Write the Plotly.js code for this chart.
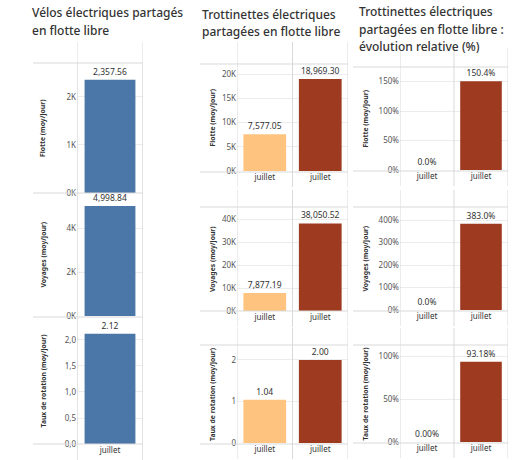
<!DOCTYPE html>
<html>
<head>
<meta charset="utf-8">
<script src="https://cdn.plot.ly/plotly-3.0.1.min.js"></script>
<style>html,body{margin:0;padding:0;background:#fff;}#chart{width:512px;height:460px;}</style>
</head>
<body>
<div id="chart"></div>
<script>
// ---------- data ----------
const years = ['2021', '2022'];
const veloYears = ['2022'];
const monthLabel = 'juillet';

const veloFlotte = [2357.56];
const veloVoyages = [4998.84];
const veloRotation = [2.12];

const trotFlotte = [7577.05, 18969.30];
const trotVoyages = [7877.19, 38050.52];
const trotRotation = [1.04, 2.00];

const evolFlotte = [0.0, 150.4];
const evolVoyages = [0.0, 383.0];
const evolRotation = [0.00, 93.18];

const veloFlotteTicks = [0, 1000, 2000];
const veloVoyagesTicks = [0, 2000, 4000];
const veloRotationTicks = [0, 0.5, 1.0, 1.5, 2.0];
const trotFlotteTicks = [0, 5000, 10000, 15000, 20000];
const trotVoyagesTicks = [0, 10000, 20000, 30000, 40000];
const trotRotationTicks = [0, 1, 2];
const evolFlotteTicks = [0, 50, 100, 150];
const evolVoyagesTicks = [0, 100, 200, 300, 400];
const evolRotationTicks = [0, 50, 100];

const titles = [
  ['Vélos électriques partagés', 'en flotte libre'],
  ['Trottinettes électriques', 'partagées en flotte libre'],
  ['Trottinettes électriques', 'partagées en flotte libre :', 'évolution relative (%)']
];
const measureTitles = ['Flotte (moy/jour)', 'Voyages (moy/jour)', 'Taux de rotation (moy/jour)'];

// ---------- helpers ----------
const W = 512, H = 460;
const px = v => v / W;
const py = v => 1 - v / H;
const FONT = 'Noto Sans, Open Sans, sans-serif';
const yearColor = {'2021': '#fec47f', '2022': '#9d3a1f'};
const blue = '#4a76a8';
const gridC = '#ececec';
const lineC = '#d9d9d9';

const num = (v, d) => v.toLocaleString('en-US', {minimumFractionDigits: d, maximumFractionDigits: d});
const kText = t => t.map(v => (v / 1000) + 'K');
const commaText = t => t.map(v => v.toFixed(1).replace('.', ','));
const plainText = t => t.map(v => String(v));
const pctText = t => t.map(v => v + '%');

// panel definitions: pixel boxes & ranges
const panels = [
  // left column
  {cats: veloYears, vals: veloFlotte, ticks: veloFlotteTicks, tt: kText(veloFlotteTicks), lab: v => num(v, 2), colors: () => blue, xb: [77, 143], yb: [63, 193], top: 2708},
  {cats: veloYears, vals: veloVoyages, ticks: veloVoyagesTicks, tt: kText(veloVoyagesTicks), lab: v => num(v, 2), colors: () => blue, xb: [77, 143], yb: [193, 316], top: 5591},
  {cats: veloYears, vals: veloRotation, ticks: veloRotationTicks, tt: commaText(veloRotationTicks), lab: v => num(v, 2), colors: () => blue, xb: [77, 143], yb: [317, 444], top: 2.442, month: true},
  // middle column
  {cats: years, vals: trotFlotte, ticks: trotFlotteTicks, tt: kText(trotFlotteTicks), lab: v => num(v, 2), colors: c => yearColor[c], xb: [237, 348], yb: [64, 171], top: 22062, month: true, hdr: 53},
  {cats: years, vals: trotVoyages, ticks: trotVoyagesTicks, tt: kText(trotVoyagesTicks), lab: v => num(v, 2), colors: c => yearColor[c], xb: [237, 348], yb: [207, 311], top: 45217, month: true, hdr: 201},
  {cats: years, vals: trotRotation, ticks: trotRotationTicks, tt: plainText(trotRotationTicks), lab: v => num(v, 2), colors: c => yearColor[c], xb: [237, 348], yb: [345, 443], top: 2.36, month: true, hdr: 339},
  // right column
  {cats: years, vals: evolFlotte, ticks: evolFlotteTicks, tt: pctText(evolFlotteTicks), lab: v => num(v, 1) + '%', colors: c => yearColor[c], xb: [400, 508], yb: [67, 170], top: 174.6, month: true, hdr: 59},
  {cats: years, vals: evolVoyages, ticks: evolVoyagesTicks, tt: pctText(evolVoyagesTicks), lab: v => num(v, 1) + '%', colors: c => yearColor[c], xb: [400, 508], yb: [207, 310], top: 457.8, month: true, hdr: 201},
  {cats: years, vals: evolRotation, ticks: evolRotationTicks, tt: pctText(evolRotationTicks), lab: v => num(v, 2) + '%', colors: c => yearColor[c], xb: [400, 508], yb: [345, 442], top: 112.8, month: true, hdr: 339}
];

const traces = [];
const layout = {
  width: W, height: H,
  margin: {l: 0, r: 0, t: 0, b: 0},
  paper_bgcolor: '#fff', plot_bgcolor: 'rgba(0,0,0,0)',
  showlegend: false,
  bargap: 0.23,
  font: {family: FONT, size: 8, color: '#555'},
  annotations: [], shapes: []
};

panels.forEach((p, i) => {
  const n = i === 0 ? '' : String(i + 1);
  const xa = 'x' + n, ya = 'y' + n;
  traces.push({
    type: 'bar', x: p.cats, y: p.vals, xaxis: xa, yaxis: ya,
    marker: {color: p.cats.map(p.colors), line: {width: 0}},
    text: p.vals.map(p.lab), textposition: 'outside', cliponaxis: false,
    textfont: {family: FONT, size: 8.5, color: '#333'},
    hoverinfo: 'none'
  });
  layout['xaxis' + n] = {
    domain: [px(p.xb[0]), px(p.xb[1])], anchor: ya,
    type: 'category', range: [-0.5, p.cats.length - 0.5],
    tickvals: p.cats, ticktext: p.cats.map(() => p.month ? monthLabel : ''),
    showticklabels: !!p.month, ticks: '', showgrid: false, zeroline: false, showline: false,
    tickfont: {family: FONT, size: 8, color: '#333'}, fixedrange: true
  };
  layout['yaxis' + n] = {
    domain: [py(p.yb[1]), py(p.yb[0])], anchor: xa,
    range: [0, p.top], tickvals: p.ticks, ticktext: p.tt,
    ticks: '', showgrid: true, gridcolor: gridC, gridwidth: 1,
    zeroline: false, showline: false,
    tickfont: {family: FONT, size: 8, color: '#555'}, fixedrange: true
  };
  // vertical separators at category boundaries
  for (let k = 0; k <= p.cats.length; k++) {
    layout.shapes.push({type: 'line', xref: xa, yref: 'paper', x0: k - 0.5, x1: k - 0.5,
      y0: py(p.yb[1] + (p.month ? 16 : 1)), y1: py(p.hdr ? p.hdr - 11 : p.yb[0]),
      line: {color: lineC, width: 1}});
  }
  // year headers
  if (p.hdr) {
    p.cats.forEach(c => layout.annotations.push({xref: xa, yref: 'paper', x: c, y: py(p.hdr),
      text: c, showarrow: false, font: {family: FONT, size: 8, color: '#333'},
      xanchor: 'center', yanchor: 'middle'}));
  }
});

// left column extra: header & vertical lines full height
layout.annotations.push({xref: 'x', yref: 'paper', x: veloYears[0], y: py(53), text: veloYears[0],
  showarrow: false, xanchor: 'center', yanchor: 'middle', font: {family: FONT, size: 8, color: '#333'}});
layout.shapes.push({type: 'line', xref: 'x', yref: 'paper', x0: -0.5, x1: -0.5, y0: py(460), y1: py(42), line: {color: lineC, width: 1}});
layout.shapes.push({type: 'line', xref: 'x', yref: 'paper', x0: 0.5, x1: 0.5, y0: py(460), y1: py(42), line: {color: lineC, width: 1}});

// horizontal row lines
const hlines = [
  [33, 143, [63, 193, 317, 444]],
  [200, 348, [64, 172, 207, 311, 345, 444]],
  [353, 508, [67, 171, 207, 311, 345, 443]]
];
hlines.forEach(([x0, x1, ys]) => ys.forEach(y => layout.shapes.push({
  type: 'line', xref: 'paper', yref: 'paper', x0: px(x0), x1: px(x1), y0: py(y), y1: py(y),
  line: {color: lineC, width: 1}})));

// titles
const titleX = [30, 200, 357];
const titleY0 = [13, 14, 12];
titles.forEach((lines, c) => lines.forEach((t, j) => layout.annotations.push({
  xref: 'paper', yref: 'paper', x: px(titleX[c]), y: py(titleY0[c] + j * 17.5),
  xanchor: 'left', yanchor: 'middle', text: t, showarrow: false,
  font: {family: FONT, size: 12, color: '#333', weight: 500}})));

// measure axis titles (rotated)
const axTitleX = [43, 212, 365];
panels.forEach((p, i) => {
  const c = Math.floor(i / 3), r = i % 3;
  layout.annotations.push({xref: 'paper', yref: 'paper', x: px(axTitleX[c]), y: py((p.yb[0] + p.yb[1]) / 2),
    xanchor: 'center', yanchor: 'middle',
    text: measureTitles[r], textangle: -90, showarrow: false,
    font: {family: FONT, size: 6.8, color: '#333', weight: 700}});
});

Plotly.newPlot('chart', traces, layout, {displayModeBar: false, staticPlot: true});
</script>
</body>
</html>
